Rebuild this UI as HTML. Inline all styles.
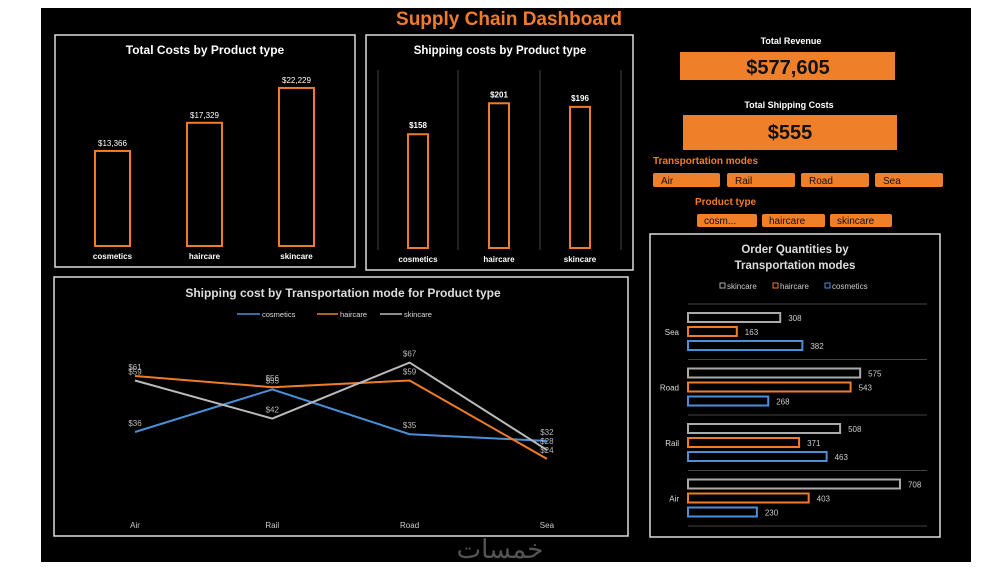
<!DOCTYPE html>
<html><head><meta charset="utf-8"><style>
body{margin:0;width:1000px;height:574px;background:#fff;position:relative;overflow:hidden;font-family:"Liberation Sans",sans-serif}
.abs{position:absolute}
</style></head><body>
<div class="abs" style="left:41px;top:8px;width:930px;height:554px;background:#000"></div>
<svg class="abs" style="left:0;top:0" width="1000" height="574" id="svg">
<text x="509" y="25" text-anchor="middle" font-size="19" font-weight="bold" fill="#f07c2a">Supply Chain Dashboard</text>
<rect x="55" y="35" width="300" height="232" fill="none" stroke="#ddd" stroke-width="1.5"/>
<text x="205" y="54" text-anchor="middle" font-size="12" font-weight="bold" fill="#fff">Total Costs by Product type</text>
<g id="g1"></g>
<rect x="366" y="35" width="267" height="235" fill="none" stroke="#ddd" stroke-width="1.5"/>
<text x="500" y="54" text-anchor="middle" font-size="11.5" font-weight="bold" fill="#fff">Shipping costs by Product type</text>
<g id="g2"></g>
<text x="791" y="44" text-anchor="middle" font-size="9" font-weight="bold" fill="#fff">Total Revenue</text>
<rect x="680" y="52" width="215" height="28" fill="#f07f2a"/>
<text x="788" y="74" text-anchor="middle" font-size="20" font-weight="bold" fill="#111">$577,605</text>
<text x="789" y="108" text-anchor="middle" font-size="9" font-weight="bold" fill="#fff">Total Shipping Costs</text>
<rect x="683" y="115" width="214" height="35" fill="#f07f2a"/>
<text x="790" y="139" text-anchor="middle" font-size="20" font-weight="bold" fill="#111">$555</text>
<text x="653" y="164" font-size="10" font-weight="bold" fill="#f07c2a">Transportation modes</text>
<g><rect x="653" y="173" width="67" height="14" rx="2" fill="#f07f2a"/><text x="661" y="184" font-size="10" fill="#111">Air</text></g>
<g><rect x="727" y="173" width="68" height="14" rx="2" fill="#f07f2a"/><text x="735" y="184" font-size="10" fill="#111">Rail</text></g>
<g><rect x="801" y="173" width="68" height="14" rx="2" fill="#f07f2a"/><text x="809" y="184" font-size="10" fill="#111">Road</text></g>
<g><rect x="875" y="173" width="68" height="14" rx="2" fill="#f07f2a"/><text x="883" y="184" font-size="10" fill="#111">Sea</text></g>
<text x="695" y="205" font-size="10" font-weight="bold" fill="#f07c2a">Product type</text>
<g><rect x="697" y="214" width="60" height="13" rx="2" fill="#f07f2a"/><text x="704" y="224" font-size="10" fill="#111">cosm...</text></g>
<g><rect x="762" y="214" width="63" height="13" rx="2" fill="#f07f2a"/><text x="769" y="224" font-size="10" fill="#111">haircare</text></g>
<g><rect x="830" y="214" width="62" height="13" rx="2" fill="#f07f2a"/><text x="837" y="224" font-size="10" fill="#111">skincare</text></g>
<rect x="650" y="234" width="290" height="303" fill="none" stroke="#ddd" stroke-width="1.5"/>
<text x="795" y="253" text-anchor="middle" font-size="11.5" font-weight="bold" fill="#ddd">Order Quantities by</text>
<text x="795" y="269" text-anchor="middle" font-size="11.5" font-weight="bold" fill="#ddd">Transportation modes</text>
<g font-size="8" fill="#ccc">
<rect x="720" y="283" width="5" height="5" fill="none" stroke="#aaa"/><text x="727" y="289">skincare</text>
<rect x="773" y="283" width="5" height="5" fill="none" stroke="#f07c2a"/><text x="780" y="289">haircare</text>
<rect x="825" y="283" width="5" height="5" fill="none" stroke="#4a8fd8"/><text x="832" y="289">cosmetics</text></g>
<g id="g3"></g>
<rect x="54" y="277" width="574" height="259" fill="none" stroke="#ddd" stroke-width="1.5"/>
<text x="343" y="297" text-anchor="middle" font-size="12" font-weight="bold" fill="#ddd">Shipping cost by Transportation mode for Product type</text>
<g font-size="7.5" fill="#ddd">
<line x1="237" y1="314" x2="260" y2="314" stroke="#4a8fd8" stroke-width="1.5"/><text x="262" y="317">cosmetics</text>
<line x1="317" y1="314" x2="338" y2="314" stroke="#f07c2a" stroke-width="1.5"/><text x="340" y="317">haircare</text>
<line x1="380" y1="314" x2="402" y2="314" stroke="#bbb" stroke-width="1.5"/><text x="404" y="317">skincare</text></g>
<g id="g4"></g>
<text x="500" y="558" text-anchor="middle" font-size="26" fill="#555">خمسات</text>
</svg>
<script>
const NS="http://www.w3.org/2000/svg";
function mk(p,t,a,txt){const e=document.createElementNS(NS,t);for(const k in a)e.setAttribute(k,a[k]);if(txt!=null)e.textContent=txt;p.appendChild(e);return e;}
const products=["cosmetics","haircare","skincare"];
const totalCosts=[13366,17329,22229];
const shipCosts=[158,201,196];
const modes=["Air","Rail","Road","Sea"];
const lineCosmetics=[36,55,35,32];
const lineHaircare=[61,56,59,24];
const lineSkincare=[59,42,67,28];
const orderModes=["Sea","Road","Rail","Air"];
const orderSkincare=[308,575,508,708];
const orderHaircare=[163,543,371,403];
const orderCosmetics=[382,268,463,230];
const fmt=v=>"$"+v.toLocaleString("en-US");
// chart 1
const g1=document.getElementById("g1");
const y1=v=>246-v*0.00711;
products.forEach((p,i)=>{const x=95+i*92;
let r=mk(g1,"rect",{x:x,y:y1(totalCosts[i]),width:35,height:246-y1(totalCosts[i]),fill:"none",stroke:"#f07c2a","stroke-width":2});

let t=mk(g1,"text",{x:x+17.5,y:y1(totalCosts[i])-5,"text-anchor":"middle","font-size":8,fill:"#fff"},fmt(totalCosts[i]));

let c=mk(g1,"text",{x:x+17.5,y:259,"text-anchor":"middle","font-size":8,"font-weight":"bold",fill:"#fff"},p);
});
// chart 2
const g2=document.getElementById("g2");
[378,458,540,621].forEach(x=>{let l=mk(g2,"line",{x1:x,y1:70,x2:x,y2:250,stroke:"#444","stroke-width":1});});
const y2=v=>248-v*0.72;
products.forEach((p,i)=>{const x=408+i*81;
let r=mk(g2,"rect",{x:x,y:y2(shipCosts[i]),width:20,height:248-y2(shipCosts[i]),fill:"none",stroke:"#f07c2a","stroke-width":2});

let t=mk(g2,"text",{x:x+10,y:y2(shipCosts[i])-6,"text-anchor":"middle","font-size":8,"font-weight":"bold",fill:"#fff"},fmt(shipCosts[i]));

let c=mk(g2,"text",{x:x+10,y:262,"text-anchor":"middle","font-size":8,"font-weight":"bold",fill:"#fff"},p);
});
// chart 3
const g3=document.getElementById("g3");
const xb=v=>688+v*0.2994;
orderModes.forEach((m,i)=>{const top=304+i*55.5;
let s=mk(g3,"line",{x1:688,y1:top,x2:927,y2:top,stroke:"#444"});
let c=mk(g3,"text",{x:679,y:top+31,"text-anchor":"end","font-size":8,fill:"#ddd"},m);
[[orderSkincare,"#aaa"],[orderHaircare,"#f07c2a"],[orderCosmetics,"#4a8fd8"]].forEach(([arr,col],j)=>{const y=top+9+j*14;
let r=mk(g3,"rect",{x:688,y:y,width:xb(arr[i])-688,height:9,fill:"none",stroke:col,"stroke-width":2});
let t=mk(g3,"text",{x:xb(arr[i])+8,y:y+8,"font-size":8,fill:"#ccc"},arr[i]);});});
let s=mk(g3,"line",{x1:688,y1:526,x2:927,y2:526,stroke:"#444"});
// chart 4
const g4=document.getElementById("g4");
const xl=i=>135+i*137.3;const yl=v=>432-(v-36)*2.24;
modes.forEach((m,i)=>{let t=mk(g4,"text",{x:xl(i),y:528,"text-anchor":"middle","font-size":8,fill:"#ccc"},m);});
[[lineCosmetics,"#4a8fd8"],[lineHaircare,"#f07c2a"],[lineSkincare,"#bbb"]].forEach(([arr,col])=>{
let p=mk(g4,"polyline",{points:arr.map((v,i)=>xl(i)+","+yl(v)).join(" "),fill:"none",stroke:col,"stroke-width":2});

arr.forEach((v,i)=>{let t=mk(g4,"text",{x:xl(i),y:yl(v)-6,"text-anchor":"middle","font-size":8,fill:"#bbb"},"$"+v);});});
</script>
</body></html>
